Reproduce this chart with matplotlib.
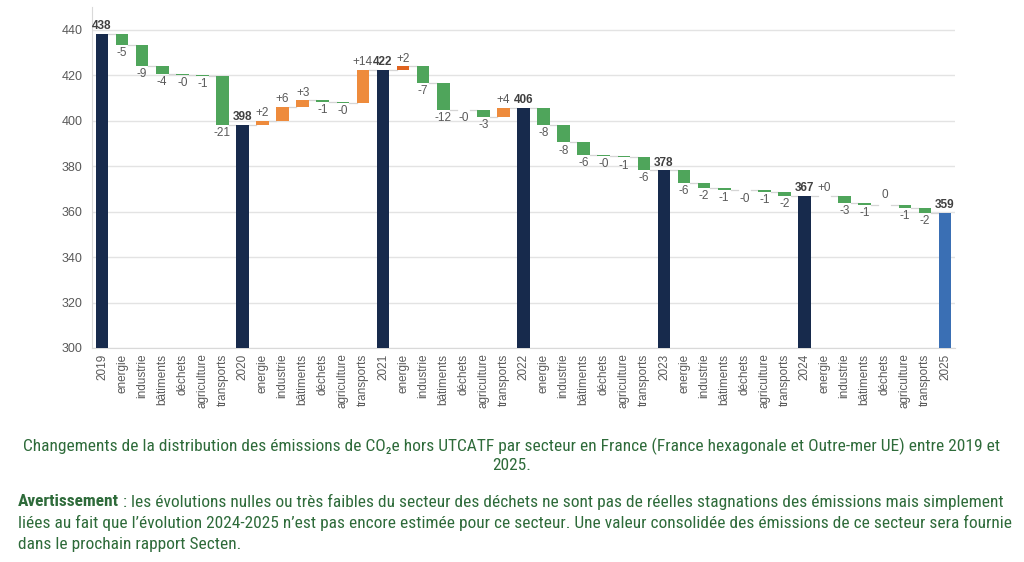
import matplotlib
matplotlib.use("Agg")
import matplotlib.pyplot as plt
from matplotlib import font_manager

# ---------------- data ----------------
years = ['2019', '2020', '2021', '2022', '2023', '2024', '2025']
totals = [438.2, 398.3, 422.3, 405.6, 378.1, 366.8, 359.4]
sectors = ['energie', 'industrie', 'bâtiments', 'déchets', 'agriculture', 'transports']
d_2019_2020 = [-4.8, -9.2, -3.8, -0.3, -0.6, -21.2]
d_2020_2021 = [1.7, 6.2, 2.7, -0.6, -0.4, 14.4]
d_2021_2022 = [1.6, -7.3, -11.7, -0.3, -2.9, 3.9]
d_2022_2023 = [-7.6, -7.6, -5.6, -0.3, -0.7, -5.7]
d_2023_2024 = [-5.6, -2.0, -0.8, -0.4, -0.7, -1.8]
d_2024_2025 = [0.2, -3.2, -1.0, 0.0, -1.0, -2.4]
deltas = [d_2019_2020, d_2020_2021, d_2021_2022, d_2022_2023, d_2023_2024, d_2024_2025]
y_ticks = [300, 320, 340, 360, 380, 400, 420, 440]

caption_1 = ("Changements de la distribution des émissions de CO\u2082e hors UTCATF par secteur en France "
             "(France hexagonale et Outre-mer UE) entre 2019 et")
caption_2 = "2025."
warn_bold = "Avertissement"
warn_l1 = (" : les évolutions nulles ou très faibles du secteur des déchets ne sont pas de réelles "
           "stagnations des émissions mais simplement")
warn_l2 = ("liées au fait que l\u2019évolution 2024-2025 n\u2019est pas encore estimée pour ce secteur. "
           "Une valeur consolidée des émissions de ce secteur sera fournie")
warn_l3 = "dans le prochain rapport Secten."

# ---------------- styles ----------------
NAVY = '#172A4C'
BLUE = '#3A6FB4'
GREEN = '#4FA55B'
ORANGE = '#EE8B3C'
DARK_ORANGE = '#E0631F'
LABEL = '#595959'
CAP_GREEN = '#2E6B3A'

avail = sorted({f.name for f in font_manager.fontManager.ttflist})
narrow = None
for cand in ['Liberation Sans Narrow', 'Roboto Condensed', 'Open Sans Condensed',
             'Noto Sans Condensed', 'DejaVu Sans Condensed']:
    if cand in avail:
        narrow = cand
        break
if narrow is None:
    for n in avail:
        if 'Condensed' in n or 'Narrow' in n:
            narrow = n
            break
if narrow is None:
    narrow = 'Liberation Sans'
plt.rcParams['font.family'] = ['Liberation Sans', 'DejaVu Sans']

fig = plt.figure(figsize=(10.24, 5.62), dpi=100)
ax = fig.add_axes([92 / 1024, 1 - 348 / 562, (955 - 92) / 1024, (348 - 7) / 562])

W = 0.63
labels = []
pos = 0
prev_end = None
for yi, yr in enumerate(years):
    col = BLUE if yi == len(years) - 1 else NAVY
    t = totals[yi]
    ax.bar(pos, t - 300, bottom=300, width=W, color=col, zorder=3)
    ax.text(pos, t + 0.8, f"{round(t):d}", ha='center', va='bottom', fontsize=8.5,
            color='#404040', fontweight='bold', zorder=5)
    if prev_end is not None:
        ax.plot([pos - 1 + W / 2, pos - W / 2], [prev_end, prev_end], color='#D5D5D5', lw=0.9, zorder=2)
    labels.append(yr)
    prev_end = t
    cur = t
    pos += 1
    if yi == len(years) - 1:
        break
    for si, d in enumerate(deltas[yi]):
        if d > 0:
            c = DARK_ORANGE if (yi == 2 and si == 0) else ORANGE
        else:
            c = GREEN
        h = d if abs(d) > 0.15 else 0.15
        ax.bar(pos, h, bottom=cur, width=W, color=c, zorder=3)
        ax.plot([pos - 1 + W / 2, pos - W / 2], [cur, cur], color='#D5D5D5', lw=0.9, zorder=2)
        end = cur + d
        if d > 0:
            txt = f"+{round(d):d}"
            ax.text(pos, end + 0.8, txt, ha='center', va='bottom', fontsize=8.5, color=LABEL, zorder=5)
        elif d < 0:
            txt = f"-{round(abs(d)):d}"
            ax.text(pos, min(end, cur) - 0.9, txt, ha='center', va='top', fontsize=8.5, color=LABEL, zorder=5)
        else:
            ax.text(pos, cur + 2.0, "0", ha='center', va='bottom', fontsize=8.5, color=LABEL, zorder=5)
        cur = end
        prev_end = cur
        labels.append(sectors[si])
        pos += 1

ax.set_xlim(-0.5, len(labels) - 0.5)
ax.set_ylim(300, 450)
ax.set_yticks(y_ticks)
ax.set_xticks(range(len(labels)))
ax.set_xticklabels(labels, rotation=90, fontsize=8.5, color=LABEL)
ax.tick_params(axis='y', labelsize=9, colors=LABEL, length=0, pad=7)
ax.tick_params(axis='x', length=0, pad=4)
ax.grid(axis='y', color='#E3E3E3', lw=1, zorder=0)
for s in ['top', 'right']:
    ax.spines[s].set_visible(False)
ax.spines['left'].set_color('#D9D9D9')
ax.spines['bottom'].set_color('#D9D9D9')

# captions: fit font size to reference widths
cap_font = [narrow, 'DejaVu Sans']
renderer = fig.canvas.get_renderer()


def fitted_size(txt, target_px, base=11.5, weight='normal'):
    probe = fig.text(0, 0, txt, fontsize=base, family=cap_font, fontweight=weight)
    w = probe.get_window_extent(renderer=renderer).width
    probe.remove()
    return base * target_px / w


fs_cap = min(13.5, fitted_size(caption_1, 975))
fig.text(0.5, 1 - 446 / 562, caption_1, ha='center', va='center', fontsize=fs_cap,
         color=CAP_GREEN, family=cap_font)
fig.text(0.5, 1 - 466 / 562, caption_2, ha='center', va='center', fontsize=fs_cap,
         color=CAP_GREEN, family=cap_font)

x0 = 18 / 1024
fs_w = min(13.5, fitted_size(warn_bold + warn_l1, 980))
tb = fig.text(x0, 1 - 502 / 562, warn_bold, ha='left', va='center', fontsize=fs_w,
              color=CAP_GREEN, family=cap_font, fontweight='bold')
bb = tb.get_window_extent(renderer=renderer)
fig.text(bb.x1 / fig.bbox.width, 1 - 502 / 562, warn_l1, ha='left', va='center', fontsize=fs_w,
         color=CAP_GREEN, family=cap_font)
fig.text(x0, 1 - 523 / 562, warn_l2, ha='left', va='center', fontsize=fs_w,
         color=CAP_GREEN, family=cap_font)
fig.text(x0, 1 - 544 / 562, warn_l3, ha='left', va='center', fontsize=fs_w,
         color=CAP_GREEN, family=cap_font)

fig.savefig('out.png', dpi=100)
